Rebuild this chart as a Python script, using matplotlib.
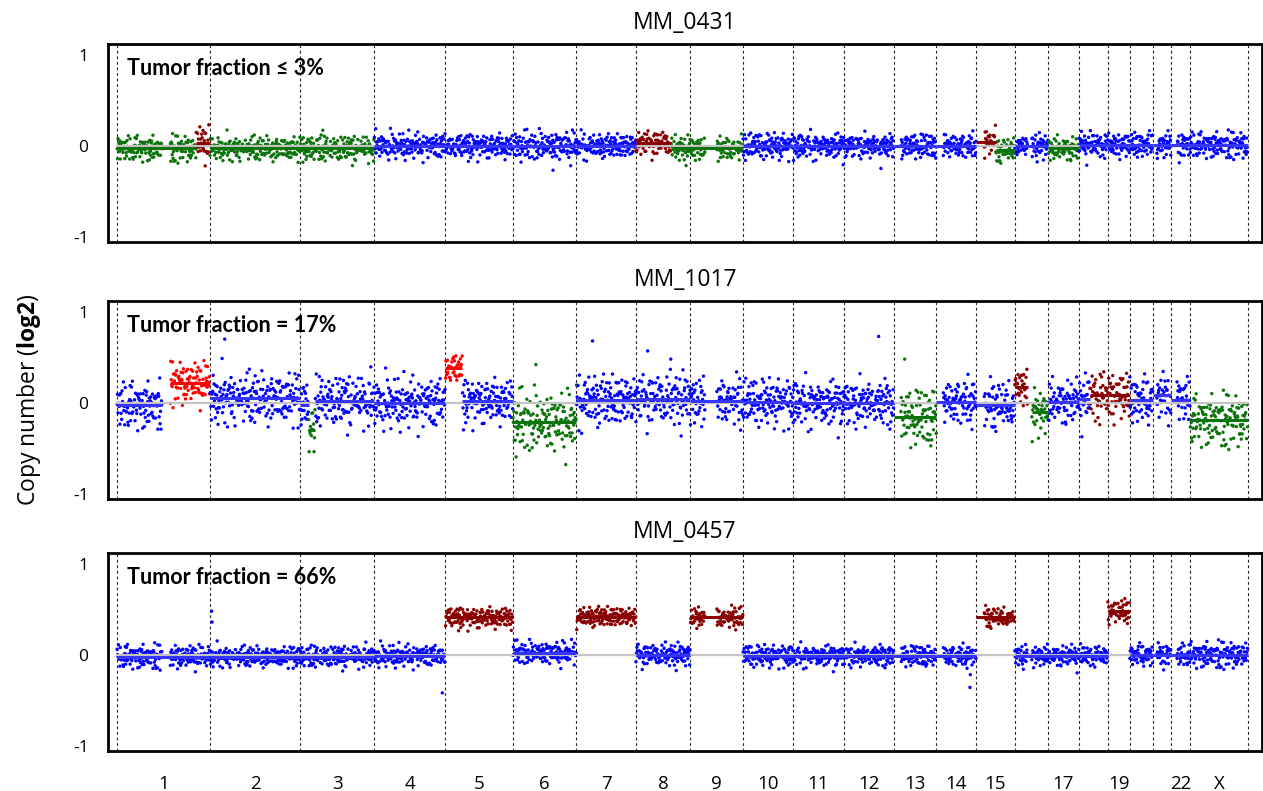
import numpy as np
import matplotlib
matplotlib.use("Agg")
import matplotlib.pyplot as plt

plt.rcParams['font.family'] = ['Open Sans', 'DejaVu Sans']
plt.rcParams['mathtext.fontset'] = 'custom'
plt.rcParams['mathtext.rm'] = 'Open Sans'
plt.rcParams['mathtext.bf'] = 'Open Sans:bold'

# genome layout (hg19, Mb)
chroms = ['1', '2', '3', '4', '5', '6', '7', '8', '9', '10', '11', '12',
          '13', '14', '15', '16', '17', '18', '19', '20', '21', '22', 'X']
chrom_len = [249.3, 243.2, 198.0, 191.2, 180.9, 171.1, 159.1, 146.4, 141.2,
             135.5, 135.0, 133.9, 115.2, 107.3, 102.5, 90.4, 81.2, 78.1,
             59.1, 63.0, 48.1, 51.3, 155.3]
no_data = {'1': (121, 143), '9': (39, 71), '13': (0, 19), '14': (0, 18),
           '15': (0, 20), '16': (35, 46), '19': (25, 28), '21': (0, 10),
           '22': (0, 16)}
tick_chroms = ['1', '2', '3', '4', '5', '6', '7', '8', '9', '10', '11', '12',
               '13', '14', '15', '17', '19', '22', 'X']
bin_mb = 1.2

samples = ['MM_0431', 'MM_1017', 'MM_0457']
fractions = ['Tumor fraction \u2264 3%', 'Tumor fraction = 17%',
             'Tumor fraction = 66%']

# segments: (chrom, start, end, log2 mean, call, spread); end None = whole chrom
segs_0431 = [('1', 0, 212, -0.03, 'loss', 0.065), ('1', 212, None, 0.03, 'gain', 0.09),
             ('2', 0, None, -0.03, 'loss', 0.065), ('3', 0, None, -0.03, 'loss', 0.065),
             ('4', 0, None, 0.0, 'neutral', 0.065), ('5', 0, None, 0.0, 'neutral', 0.065),
             ('6', 0, None, 0.0, 'neutral', 0.07), ('7', 0, None, 0.0, 'neutral', 0.065),
             ('8', 0, 95, 0.03, 'gain', 0.07), ('8', 95, None, -0.03, 'loss', 0.065),
             ('9', 0, None, -0.03, 'loss', 0.065), ('10', 0, None, 0.0, 'neutral', 0.065),
             ('11', 0, None, 0.0, 'neutral', 0.065), ('12', 0, None, 0.0, 'neutral', 0.065),
             ('13', 0, None, 0.0, 'neutral', 0.065), ('14', 0, None, 0.0, 'neutral', 0.065),
             ('15', 0, 52, 0.04, 'gain', 0.07), ('15', 52, None, -0.05, 'loss', 0.06),
             ('16', 0, None, 0.0, 'neutral', 0.065), ('17', 0, None, -0.03, 'loss', 0.065),
             ('18', 0, None, 0.01, 'neutral', 0.065), ('19', 0, None, 0.01, 'neutral', 0.07),
             ('20', 0, None, 0.01, 'neutral', 0.065), ('21', 0, None, 0.01, 'neutral', 0.065),
             ('22', 0, None, 0.01, 'neutral', 0.065), ('X', 0, None, 0.01, 'neutral', 0.065)]

segs_1017 = [('1', 0, 121, -0.03, 'neutral', 0.12), ('1', 143, None, 0.22, 'amp', 0.11),
             ('2', 0, None, 0.05, 'neutral', 0.14), ('3', 0, 22, -0.02, 'neutral', 0.12),
             ('3', 22, 40, -0.30, 'loss', 0.13), ('3', 40, None, 0.02, 'neutral', 0.13),
             ('4', 0, None, 0.0, 'neutral', 0.13), ('5', 0, 45, 0.38, 'amp', 0.08),
             ('5', 45, None, 0.02, 'neutral', 0.12), ('6', 0, None, -0.21, 'loss', 0.15),
             ('7', 0, None, 0.03, 'neutral', 0.14), ('8', 0, None, 0.04, 'neutral', 0.14),
             ('9', 0, None, 0.02, 'neutral', 0.13), ('10', 0, None, 0.01, 'neutral', 0.12),
             ('11', 0, None, 0.0, 'neutral', 0.12), ('12', 0, None, 0.0, 'neutral', 0.13),
             ('13', 0, None, -0.16, 'loss', 0.15), ('14', 0, None, 0.01, 'neutral', 0.12),
             ('15', 0, None, -0.03, 'neutral', 0.12), ('16', 0, 35, 0.17, 'gain', 0.11),
             ('16', 46, None, -0.10, 'loss', 0.12), ('17', 0, None, 0.01, 'neutral', 0.12),
             ('18', 0, 30, 0.04, 'neutral', 0.12), ('18', 30, None, 0.08, 'gain', 0.14),
             ('19', 0, None, 0.08, 'gain', 0.14), ('20', 0, None, 0.03, 'neutral', 0.12),
             ('21', 0, None, 0.08, 'neutral', 0.11), ('22', 0, None, 0.03, 'neutral', 0.12),
             ('X', 0, None, -0.19, 'loss', 0.13)]

segs_0457 = [('1', 0, None, -0.02, 'neutral', 0.06), ('2', 0, None, -0.02, 'neutral', 0.055),
             ('3', 0, None, -0.02, 'neutral', 0.055), ('4', 0, None, -0.01, 'neutral', 0.055),
             ('5', 0, None, 0.41, 'gain', 0.055), ('6', 0, None, 0.02, 'neutral', 0.055),
             ('7', 0, None, 0.42, 'gain', 0.055), ('8', 0, None, 0.0, 'neutral', 0.06),
             ('9', 0, None, 0.41, 'gain', 0.055), ('10', 0, None, -0.01, 'neutral', 0.055),
             ('11', 0, None, -0.01, 'neutral', 0.055), ('12', 0, None, -0.01, 'neutral', 0.06),
             ('13', 0, None, -0.01, 'neutral', 0.055), ('14', 0, None, -0.01, 'neutral', 0.055),
             ('15', 0, None, 0.41, 'gain', 0.05), ('16', 0, None, -0.01, 'neutral', 0.055),
             ('17', 0, None, -0.01, 'neutral', 0.055), ('18', 0, None, -0.01, 'neutral', 0.055),
             ('19', 0, None, 0.48, 'gain', 0.065), ('20', 0, None, 0.0, 'neutral', 0.055),
             ('21', 0, None, 0.0, 'neutral', 0.055), ('22', 0, None, 0.0, 'neutral', 0.06),
             ('X', 0, None, 0.0, 'neutral', 0.065)]

# single stray bins: (chrom, position Mb, log2)
outliers_0431 = [('6', 108, -0.27), ('3', 60, 0.17), ('12', 100, -0.25)]
outliers_1017 = [('2', 40, 0.70), ('6', 62, 0.42), ('7', 43, 0.68), ('8', 32, 0.57),
                 ('8', 94, 0.48), ('12', 94, 0.73), ('13', 30, 0.48)]
outliers_0457 = [('2', 5, 0.48), ('2', 6, 0.36), ('4', 183, -0.42),
                 ('14', 90, -0.36), ('14', 91, -0.22)]

# bin residuals (in units of spread)
resid_a = [0.3, -1.2, 0.8, -0.4, 1.5, -0.9, 0.1, -1.7, 0.6, 1.1, -0.2, -0.7, 2.1,
           -1.0, 0.4, -0.1, 0.9, -1.4, 0.2, 1.3, -0.6, -2.2, 0.7, 0.0, -0.3, 1.8,
           -1.1, 0.5, -0.8, 1.0, -0.5, 0.2, -1.5, 1.2, 0.4, -0.2, -1.9, 0.8, 0.1,
           -0.6, 1.6, -1.3, 0.3, 0.6, -0.4, 2.4, -0.9, 0.0, -1.0, 0.9, 0.5, -1.6,
           1.4, -0.3, 0.2, -0.7, 1.1, -2.6, 0.7, -0.1, 0.3]
resid_b = [-0.5, 1.2, 0.2, -1.3, 0.7, -0.2, 1.7, -0.8, 0.0, 0.9, -1.9, 0.4, -0.6,
           1.4, -1.0, 0.3, 0.6, -0.3, 2.0, -1.2, 0.1, -0.7, 1.0, -0.4, 0.5, -1.6,
           0.8, 0.2, -0.9, 1.3, -0.1, -2.3, 0.6, 1.1, -0.5, 0.4, -1.1]

call_colors = {'neutral': '#0000ff', 'loss': '#0b740b', 'gain': '#8b0000', 'amp': '#ff0000'}
line_colors = {'neutral': '#3535ff', 'loss': '#0b740b', 'gain': '#8b0000', 'amp': '#ff0000'}

offsets = np.concatenate([[0], np.cumsum(chrom_len)])
genome_end = offsets[-1]


def seg_points(segs, outl, k0):
    xs, ys, cs = [], [], []
    k = k0
    for ch, s, e, m, call, sd in segs:
        ci = chroms.index(ch)
        e = chrom_len[ci] if e is None else e
        pos = np.arange(0.6, chrom_len[ci], bin_mb)
        pos = pos[(pos >= s) & (pos < e)]
        if ch in no_data:
            g = no_data[ch]
            pos = pos[(pos < g[0]) | (pos > g[1])]
        for p in pos:
            r = 0.8 * resid_a[k % len(resid_a)] + 0.6 * resid_b[(3 * k) % len(resid_b)]
            xs.append(offsets[ci] + p)
            ys.append(m + sd * r)
            cs.append(call_colors[call])
            k += 1
    for ch, p, v in outl:
        ci = chroms.index(ch)
        call = 'neutral'
        for sch, s, e, m, c, sd in segs:
            e = chrom_len[ci] if e is None else e
            if sch == ch and s <= p < e:
                call = c
        xs.append(offsets[ci] + p)
        ys.append(v)
        cs.append(call_colors[call])
    return xs, ys, cs


fig = plt.figure(figsize=(12.63, 7.91), dpi=100)
ax_left, ax_w, ax_h = 108 / 1263, 1154 / 1263, 198 / 791
bottoms = [1 - 242 / 791, 1 - 499 / 791, 1 - 751 / 791]

all_segs = [segs_0431, segs_1017, segs_0457]
all_outl = [outliers_0431, outliers_1017, outliers_0457]

for i in range(3):
    ax = fig.add_axes([ax_left, bottoms[i], ax_w, ax_h])
    segs = all_segs[i]

    xs, ys, cs = seg_points(segs, all_outl[i], 11 * i)
    ax.scatter(xs, ys, c=cs, s=6, linewidths=0, zorder=2)

    # zero reference
    ax.plot([0, genome_end], [0, 0], color='#c4c4c4', lw=1.6, zorder=3)

    for ch, s, e, m, call, sd in segs:
        ci = chroms.index(ch)
        e = chrom_len[ci] if e is None else e
        ax.plot([offsets[ci] + s, offsets[ci] + e], [m, m], color=line_colors[call],
                lw=2.2, solid_capstyle='butt', zorder=4)

    for b in offsets:
        ax.axvline(b, color='#222222', lw=0.8, ls=(0, (2.5, 2.5)), zorder=1)

    ax.set_xlim(-24, 3074)
    ax.set_ylim(-1.06, 1.12)
    ax.set_yticks([1, 0, -1])
    ax.set_yticklabels(['1', '0', '-1'])
    ax.tick_params(axis='both', length=0, labelsize=12.5, pad=14)
    for sp in ax.spines.values():
        sp.set_linewidth(2)
    ax.set_title(samples[i], fontsize=16.5, pad=11)
    ax.text(0.0165, 0.93, fractions[i], transform=ax.transAxes, fontsize=15.5,
            fontweight='bold', va='top', ha='left', family=['Lato', 'DejaVu Sans'])

    if i == 2:
        centers = [offsets[chroms.index(c)] + chrom_len[chroms.index(c)] / 2 for c in tick_chroms]
        ax.set_xticks(centers)
        ax.set_xticklabels(tick_chroms)
        ax.tick_params(axis='x', labelsize=13.5, pad=17)
    else:
        ax.set_xticks([])

fig.text(0.023, bottoms[1] + ax_h / 2, r'Copy number ($\mathbf{log2}$)', rotation=90,
         va='center', ha='center', fontsize=16.5)

fig.savefig('out.png', dpi=100)
